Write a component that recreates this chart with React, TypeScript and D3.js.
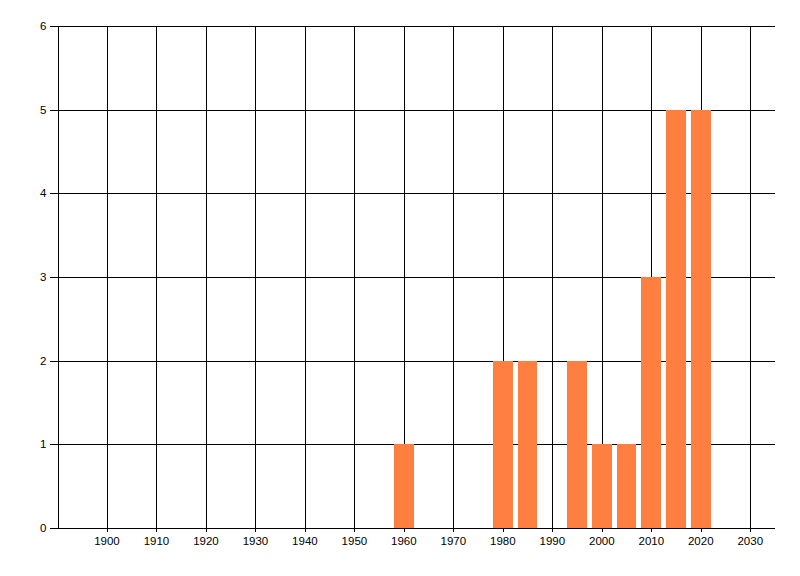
import { useRef, useEffect } from "react";
import { select, scaleLinear, range } from "d3";

const years = [1960, 1980, 1985, 1995, 2000, 2005, 2010, 2015, 2020];
const counts = [1, 2, 2, 2, 1, 1, 3, 5, 5];
const xTicks = [1900, 1910, 1920, 1930, 1940, 1950, 1960, 1970, 1980, 1990, 2000, 2010, 2020, 2030];
const yTicks = [0, 1, 2, 3, 4, 5, 6];

const WIDTH = 800;
const HEIGHT = 576;
const margin = { top: 26, right: 25, bottom: 48, left: 57.5 };
const BAR_YEARS = 4;

function BarChart() {
    const svgRef = useRef<SVGSVGElement>(null);

    useEffect(() => {
        const svg = select(svgRef.current);
        svg.selectAll("*").remove();

        const left = margin.left;
        const right = WIDTH - margin.right;
        const top = margin.top;
        const bottom = HEIGHT - margin.bottom;

        const xScale = scaleLinear().domain([1890, 2035]).range([left, right]);
        const yScale = scaleLinear().domain([0, 6]).range([bottom, top]);

        const font = "'Liberation Sans', Arial, sans-serif";

        // horizontal grid + y ticks
        svg.append("g")
            .selectAll("line")
            .data(yTicks)
            .join("line")
            .attr("x1", left - 8)
            .attr("x2", right)
            .attr("y1", (d) => Math.round(yScale(d)) + 0.5)
            .attr("y2", (d) => Math.round(yScale(d)) + 0.5)
            .attr("stroke", "#000")
            .attr("shape-rendering", "crispEdges");

        svg.append("g")
            .selectAll("text")
            .data(yTicks)
            .join("text")
            .attr("x", left - 11)
            .attr("y", (d) => yScale(d))
            .attr("dy", "0.35em")
            .attr("text-anchor", "end")
            .attr("font-family", font)
            .attr("font-size", 11.5)
            .attr("fill", "#000")
            .text((d) => d);

        // vertical grid + x ticks
        svg.append("g")
            .selectAll("line")
            .data(xTicks)
            .join("line")
            .attr("x1", (d) => Math.round(xScale(d)) + 0.5)
            .attr("x2", (d) => Math.round(xScale(d)) + 0.5)
            .attr("y1", top)
            .attr("y2", bottom + 4)
            .attr("stroke", "#000")
            .attr("shape-rendering", "crispEdges");

        svg.append("g")
            .selectAll("text")
            .data(xTicks)
            .join("text")
            .attr("x", (d) => xScale(d))
            .attr("y", bottom + 17)
            .attr("text-anchor", "middle")
            .attr("font-family", font)
            .attr("font-size", 11.5)
            .attr("fill", "#000")
            .text((d) => d);

        // bars
        svg.append("g")
            .selectAll("rect")
            .data(range(years.length))
            .join("rect")
            .attr("x", (i) => xScale(years[i] - BAR_YEARS / 2))
            .attr("width", (i) => xScale(years[i] + BAR_YEARS / 2) - xScale(years[i] - BAR_YEARS / 2))
            .attr("y", (i) => yScale(counts[i]))
            .attr("height", (i) => yScale(0) - yScale(counts[i]))
            .attr("fill", "#ff7f40")
            .attr("shape-rendering", "crispEdges");

        // y axis line
        svg.append("line")
            .attr("x1", Math.round(left) + 0.5)
            .attr("x2", Math.round(left) + 0.5)
            .attr("y1", top)
            .attr("y2", bottom)
            .attr("stroke", "#000")
            .attr("shape-rendering", "crispEdges");

        // x axis line
        svg.append("line")
            .attr("x1", left)
            .attr("x2", right)
            .attr("y1", Math.round(bottom) + 0.5)
            .attr("y2", Math.round(bottom) + 0.5)
            .attr("stroke", "#000")
            .attr("shape-rendering", "crispEdges");
    }, []);

    return <svg ref={svgRef} width={WIDTH} height={HEIGHT} style={{ display: "block", background: "#fff" }} />;
}

export default function App() {
    return (
        <div style={{ position: "absolute", left: 0, top: 0 }}>
            <BarChart />
        </div>
    );
}
